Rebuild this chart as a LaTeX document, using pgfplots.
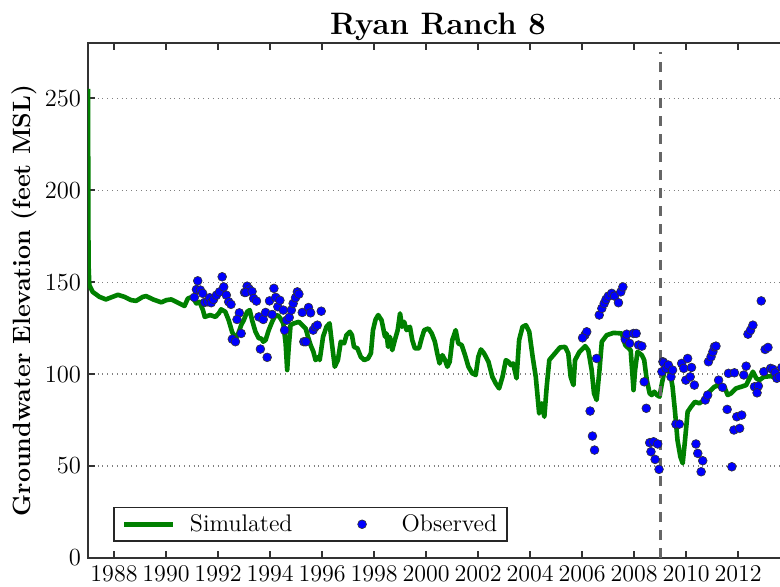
\documentclass[border=0pt]{standalone}
\usepackage{pgfplots}
\pgfplotsset{compat=1.18}
\definecolor{simgreen}{RGB}{0,128,0}
\definecolor{framegray}{RGB}{50,50,50}
\begin{document}
\begin{tikzpicture}
\begin{axis}[
  scale only axis,
  width=350pt, height=257.5pt,
  xmin=1987, xmax=2013.92,
  ymin=0, ymax=280,
  xtick={1988,1990,...,2012},
  ytick={0,50,100,150,200,250},
  /pgf/number format/assume math mode=true,
  /pgf/number format/1000 sep={},
  x tick label style={font=\fontsize{12}{14}\selectfont},
  y tick label style={font=\fontsize{12.3}{14}\selectfont},
  tick align=inside,
  major tick length=3.5pt,
  tick style={framegray, line width=0.7pt},
  axis line style={framegray, line width=0.9pt},
  ymajorgrids,
  grid style={dotted, gray, line width=0.6pt},
  title={\fontsize{15.5}{18}\selectfont\bfseries Ryan Ranch 8},
  title style={at={(axis description cs:0.5,1)}, anchor=base, yshift=-1.5pt, inner sep=0pt},
  ylabel={\fontsize{12.5}{14}\selectfont\bfseries Groundwater Elevation (feet MSL)},
  ylabel shift=-3pt,
  legend columns=2,
  legend style={at={(axis description cs:0,0)}, anchor=south west, xshift=12.5pt, yshift=8pt,
    draw=black!85, line width=0.8pt, font=\fontsize{12}{14}\selectfont,
    inner xsep=3pt, inner ysep=1.5pt,
    /tikz/every odd column/.append style={column sep=4pt},
    /tikz/every even column/.append style={column sep=19pt}},
  legend image code/.code={\path (-1.15pt,0pt) (25.65pt,0pt);\draw[mark repeat=2,mark phase=2,#1] plot coordinates {(0pt,0pt) (12.25pt,0pt) (24.5pt,0pt)};},
]
\addplot[simgreen, line width=2.3pt, line join=round] coordinates {
(1987.00,255) (1987.02,160) (1987.05,148.4) (1987.18,144.7) (1987.44,142.0) (1987.69,140.6)
(1987.89,141.7) (1988.15,143.1) (1988.40,142.0) (1988.66,140.2) (1988.85,139.8) (1989.11,142.0)
(1989.24,142.4) (1989.50,140.6) (1989.82,139.0) (1990.01,140.2) (1990.20,140.6) (1990.39,139.3)
(1990.71,137.0) (1990.84,141.1) (1991.01,142.0) (1991.17,138.4) (1991.29,139.3) (1991.42,134.8)
(1991.49,131.1) (1991.70,132.1) (1991.90,131.1) (1992.03,133.0) (1992.12,135.2) (1992.28,133.9)
(1992.41,129.3) (1992.54,123.0) (1992.67,119.4) (1992.76,121.2) (1992.89,126.6) (1992.99,129.3)
(1993.12,133.9) (1993.22,134.8) (1993.31,129.3) (1993.44,123.0) (1993.57,119.4) (1993.66,119.4)
(1993.74,117.6) (1993.83,118.5) (1993.95,123.9) (1994.08,128.4) (1994.17,131.1) (1994.30,132.1)
(1994.40,130.3) (1994.51,127.6) (1994.60,116.7) (1994.66,102.2) (1994.72,114.8) (1994.79,126.6)
(1994.92,127.6) (1995.11,128.4) (1995.24,126.6) (1995.37,124.8) (1995.46,120.3) (1995.56,115.8)
(1995.67,112.1) (1995.75,107.6) (1995.88,109.4) (1995.91,107.6) (1996.04,120.3) (1996.17,125.7)
(1996.29,127.6) (1996.38,116.7) (1996.49,104.0) (1996.61,107.6) (1996.72,117.6) (1996.85,116.7)
(1996.94,121.2) (1997.07,123.0) (1997.15,121.2) (1997.23,114.8) (1997.36,114.0) (1997.49,109.4)
(1997.62,107.6) (1997.77,108.5) (1997.88,111.3) (1997.96,123.9) (1998.06,129.7) (1998.16,132.1)
(1998.29,129.3) (1998.42,120.3) (1998.48,122.1) (1998.54,114.8) (1998.61,120.3) (1998.70,113.0)
(1998.80,118.5) (1998.91,123.9) (1999.00,133.0) (1999.08,125.7) (1999.16,128.4) (1999.25,123.9)
(1999.38,125.7) (1999.47,118.5) (1999.57,114.0) (1999.73,114.0) (1999.83,119.4) (1999.93,123.9)
(2000.09,124.8) (2000.22,122.1) (2000.34,117.6) (2000.43,111.3) (2000.52,105.8) (2000.63,110.3)
(2000.73,107.6) (2000.82,104.0) (2000.91,106.7) (2001.01,118.5) (2001.14,123.9) (2001.24,116.7)
(2001.37,115.8) (2001.50,110.3) (2001.63,104.0) (2001.78,100.4) (2001.91,99.5) (2002.01,109.4)
(2002.11,113.4) (2002.23,111.3) (2002.40,106.7) (2002.55,98.5) (2002.68,94.9) (2002.81,92.2)
(2002.94,98.5) (2003.07,107.6) (2003.17,106.7) (2003.26,104.9) (2003.35,105.8) (2003.48,97.7)
(2003.58,118.5) (2003.71,125.7) (2003.84,126.6) (2003.97,123.0) (2004.10,109.4) (2004.22,98.5)
(2004.35,78.6) (2004.45,84.1) (2004.55,76.8) (2004.64,93.1) (2004.74,107.6) (2004.79,108.5)
(2004.96,111.3) (2005.15,114.5) (2005.35,114.8) (2005.47,111.3) (2005.56,98.5) (2005.67,94.0)
(2005.73,107.6) (2005.90,112.1) (2006.12,115.2) (2006.24,113.0) (2006.37,102.2) (2006.46,89.5)
(2006.56,85.9) (2006.67,102.2) (2006.76,117.6) (2006.95,121.2) (2007.21,122.4) (2007.53,122.1)
(2007.66,115.8) (2007.79,114.0) (2007.87,113.0) (2007.98,91.3) (2008.04,102.2) (2008.13,112.1)
(2008.30,110.3) (2008.39,107.6) (2008.49,96.7) (2008.60,89.5) (2008.68,88.6) (2008.78,90.4)
(2008.88,88.6) (2008.98,87.7) (2009.07,94.9) (2009.19,103.1) (2009.29,102.2) (2009.39,100.4)
(2009.48,93.1) (2009.57,80.4) (2009.67,64.1) (2009.78,55.1) (2009.87,51.5) (2009.96,64.1)
(2010.06,79.5) (2010.19,82.2) (2010.34,84.9) (2010.51,84.1) (2010.70,85.9) (2010.90,90.4)
(2011.09,93.1) (2011.28,94.0) (2011.47,93.1) (2011.60,88.6) (2011.73,89.5) (2011.92,92.2)
(2012.12,93.1) (2012.31,94.0) (2012.44,97.7) (2012.57,101.3) (2012.70,97.7) (2012.82,96.7)
(2012.99,98.5) (2013.27,98.9) (2013.46,97.7) (2013.69,99.5) (2013.92,99.0)
};
\addlegendentry{Simulated}
\addplot[only marks, mark=*, mark size=2.2pt, mark options={fill=blue, draw=black!80, line width=0.3pt}] coordinates {
(1991.09,141.7) (1991.22,150.7) (1991.17,146.0) (1991.32,145.7) (1991.41,143.9) (1991.49,139.0)
(1991.60,139.3) (1991.68,141.5) (1991.74,138.8) (1991.83,140.6) (1991.94,142.9) (1992.06,144.7)
(1992.16,152.9) (1992.22,147.4) (1992.32,142.9) (1992.41,139.3) (1992.50,137.9) (1992.82,133.3)
(1992.73,129.7) (1992.89,122.1) (1992.55,119.0) (1992.67,117.6) (1993.02,144.4) (1993.12,147.8)
(1993.20,146.2) (1993.07,144.4) (1993.31,144.9) (1993.37,141.1) (1993.48,139.7) (1993.57,131.1)
(1993.74,129.7) (1993.83,133.5) (1993.98,139.8) (1994.08,132.4) (1994.15,146.6) (1994.22,141.7)
(1994.30,136.6) (1994.38,140.1) (1994.51,134.8) (1994.56,123.9) (1994.64,129.3) (1994.74,130.8)
(1994.82,134.8) (1994.89,138.4) (1994.98,141.5) (1995.05,144.7) (1995.11,143.5) (1995.24,133.5)
(1995.48,136.2) (1995.56,133.3) (1995.97,134.2) (1995.66,123.9) (1995.74,125.7) (1995.82,126.6)
(1995.30,117.6) (1995.38,117.6) (1993.63,113.6) (1993.89,109.1)
(2006.11,121.2) (2006.18,123.0) (2006.02,119.7) (2006.56,108.5) (2006.31,79.9) (2006.40,66.3)
(2006.48,58.7) (2006.66,132.1) (2006.76,135.7) (2006.85,138.4) (2006.92,140.6) (2007.01,142.4)
(2007.14,143.9) (2007.25,142.4) (2007.40,138.8) (2007.49,144.7) (2007.57,147.4) (2007.66,118.9)
(2007.72,121.7) (2007.83,116.7) (2007.98,122.1) (2008.08,122.1) (2008.17,115.8) (2008.30,115.2)
(2008.39,95.8) (2008.47,81.4) (2008.60,62.7) (2008.75,63.2) (2008.91,62.0) (2008.65,57.8)
(2008.81,53.6) (2008.96,48.2) (2009.11,106.7) (2009.07,101.3)
(2009.14,106.1) (2009.23,103.1) (2009.32,104.9) (2009.42,98.5) (2009.48,102.2)
(2009.61,72.8) (2009.74,72.8) (2009.83,105.8) (2009.91,103.1) (2010.06,108.5) (2010.21,103.6)
(2009.99,96.7) (2010.16,98.5) (2010.32,94.0) (2010.38,62.0) (2010.45,56.9) (2010.64,52.9)
(2010.58,46.9) (2010.74,85.9) (2010.83,88.6) (2010.86,106.7) (2010.96,109.4) (2011.03,112.1)
(2011.09,114.8) (2011.15,115.2) (2011.25,96.7) (2011.40,92.8) (2011.58,80.8) (2011.63,100.4)
(2011.86,100.7) (2011.76,49.6) (2011.84,69.6) (2011.95,76.8) (2012.06,70.5) (2012.14,77.7)
(2012.22,99.5) (2012.31,104.3) (2012.63,93.1) (2012.78,93.5) (2012.73,89.8) (2012.38,121.7)
(2012.48,123.9) (2012.57,126.6) (2012.89,139.8) (2013.04,113.4) (2013.15,114.5) (2012.99,101.3)
(2013.25,103.1) (2013.34,102.6) (2013.43,100.7) (2013.49,97.7) (2013.59,98.5) (2013.68,103.6)
};
\addlegendentry{Observed}
\addplot[gray!80!black, line width=1.5pt, dash pattern=on 5pt off 4pt, forget plot] coordinates {(2009,0) (2009,275)};
\end{axis}
\pgfresetboundingbox
\useasboundingbox (-44pt,-14pt) rectangle (346pt,279pt);
\end{tikzpicture}
\end{document}
